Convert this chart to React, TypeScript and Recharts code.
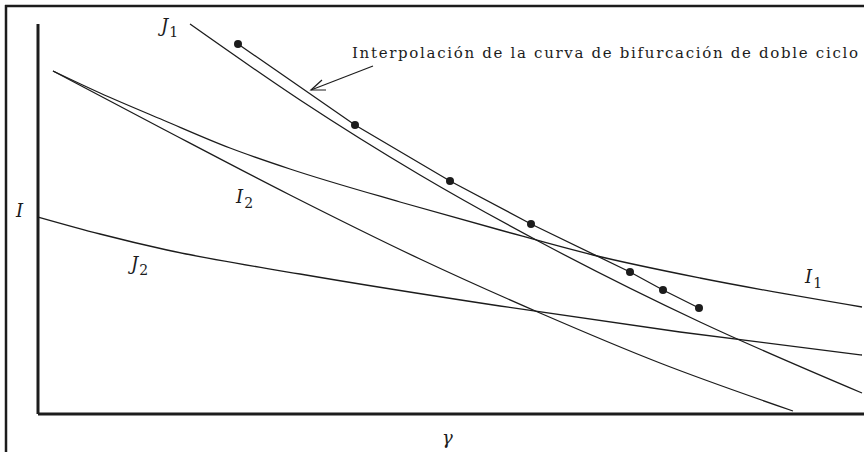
import { ComposedChart, Line, XAxis, YAxis, ReferenceLine } from "recharts"

// curve samples (gamma, I) in plot units
const i1Curve = [
  { x: 15, y: 343 }, { x: 62, y: 321 }, { x: 125, y: 294 }, { x: 192, y: 266 },
  { x: 252, y: 245 }, { x: 362, y: 212 }, { x: 462, y: 184 }, { x: 555, y: 159 },
  { x: 662, y: 136 }, { x: 824, y: 107 },
]
const i2Curve = [
  { x: 15, y: 343 }, { x: 125, y: 285 }, { x: 252, y: 219 }, { x: 382, y: 155 },
  { x: 502, y: 101 }, { x: 622, y: 51 }, { x: 755, y: 3 },
]
const j1Curve = [
  { x: 152, y: 390 }, { x: 262, y: 314 }, { x: 382, y: 239 }, { x: 502, y: 172 },
  { x: 662, y: 92 }, { x: 824, y: 21 },
]
const j2Curve = [
  { x: 0, y: 197 }, { x: 62, y: 180 }, { x: 129, y: 164 }, { x: 262, y: 140 },
  { x: 462, y: 108 }, { x: 642, y: 82 }, { x: 824, y: 59 },
]
// numerically found double-cycle bifurcation points
const doubleCycle = [
  { x: 200, y: 370 }, { x: 317, y: 289 }, { x: 412, y: 233 }, { x: 493, y: 190 },
  { x: 592, y: 142 }, { x: 625, y: 124 }, { x: 661, y: 106 },
]

const annotation = "Interpolación de la curva de bifurcación de doble ciclo"
const ink = "#1c1c1c"
const serif = "DejaVu Serif"

function Sym({ x, y, main, sub }: { x: number; y: number; main: string; sub?: string }) {
  return (
    <text x={x} y={y} fontFamily={serif} fontSize={18} fontStyle="italic" fill={ink}>
      {main}
      {sub && (
        <tspan fontStyle="normal" fontSize={14} dx={1} dy={5}>
          {sub}
        </tspan>
      )}
    </text>
  )
}

export default function App() {
  return (
    <div style={{ position: "absolute", left: 0, top: 0, width: 864, height: 452, background: "#fff" }}>
      <ComposedChart width={864} height={452} margin={{ top: 24, right: 0, bottom: 38, left: 38 }}>
        <XAxis type="number" dataKey="x" domain={[0, 826]} hide />
        <YAxis type="number" dataKey="y" domain={[0, 390]} hide />
        <ReferenceLine x={0} stroke={ink} strokeWidth={3} />
        <ReferenceLine y={0} stroke={ink} strokeWidth={3} />
        <Line data={i1Curve} dataKey="y" type="monotone" stroke={ink} strokeWidth={1.3} dot={false} isAnimationActive={false} />
        <Line data={i2Curve} dataKey="y" type="monotone" stroke={ink} strokeWidth={1.3} dot={false} isAnimationActive={false} />
        <Line data={j1Curve} dataKey="y" type="monotone" stroke={ink} strokeWidth={1.3} dot={false} isAnimationActive={false} />
        <Line data={j2Curve} dataKey="y" type="monotone" stroke={ink} strokeWidth={1.3} dot={false} isAnimationActive={false} />
        <Line
          data={doubleCycle}
          dataKey="y"
          type="linear"
          stroke={ink}
          strokeWidth={1.3}
          dot={{ r: 4, fill: ink, stroke: ink, strokeWidth: 0 }}
          isAnimationActive={false}
        />
      </ComposedChart>
      <svg width={864} height={452} style={{ position: "absolute", left: 0, top: 0, pointerEvents: "none" }}>
        {/* frame */}
        <line x1={5} y1={6} x2={864} y2={6} stroke={ink} strokeWidth={2.5} />
        <line x1={6} y1={5} x2={6} y2={452} stroke={ink} strokeWidth={2.5} />
        {/* annotation arrow */}
        <line x1={373} y1={66} x2={311} y2={90} stroke={ink} strokeWidth={1.2} />
        <path d="M 322 80 L 311 90 L 326 90" fill="none" stroke={ink} strokeWidth={1.2} />
        <text x={352} y={58} fontFamily={serif} fontSize={15} letterSpacing={1.68} fill={ink}>
          {annotation}
        </text>
        <Sym x={161} y={32} main="J" sub="1" />
        <Sym x={16} y={217} main="I" />
        <Sym x={236} y={203} main="I" sub="2" />
        <Sym x={131} y={270} main="J" sub="2" />
        <Sym x={805} y={283} main="I" sub="1" />
        <Sym x={442} y={444} main="γ" />
      </svg>
    </div>
  )
}
